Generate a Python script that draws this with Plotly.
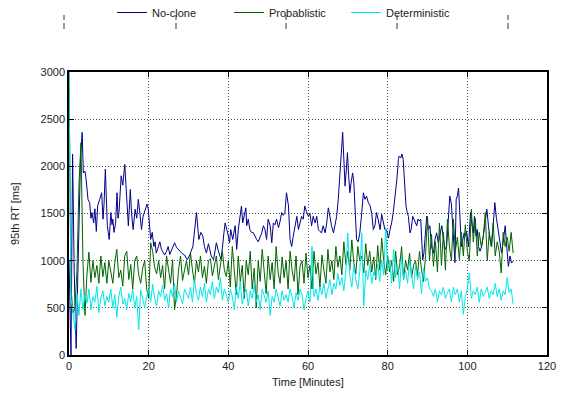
import plotly.graph_objects as go

# ---------------- data ----------------
# No-clone (irregular time samples)
noclone_t = [0.0,0.5,0.9,1.3,1.8,2.4,2.9,3.3,3.6,4.0,4.3,4.77,5.19,5.5,5.77,6.19,6.5,6.86,7.2,7.7,8.2,8.54,8.8,9.12,9.4,9.62,10.1,10.5,10.8,11.0,11.3,11.7,12.05,12.3,12.55,12.8,13.1,13.5,14.0,14.3,14.6,14.9,15.4,15.7,16.1,16.6,17.0,17.4,17.8,18.2,18.6,19.0,19.6,19.9,20.3,20.5,20.9,21.3,21.6,21.9,22.3,22.8,23.2,23.6,24.0,24.5,24.9,25.3,25.8,26.5,27.0,27.8,28.3,29.0,29.7,30.2,30.6,31.1,32.0,32.3,32.6,33.1,33.6,34.0,34.5,35.0,35.3,35.7,36.3,37.0,37.5,38.2,38.9,39.2,39.9,
             40.3,40.6,41.1,41.7,42.1,42.5,42.9,43.3,43.6,43.9,44.4,44.6,45.0,45.4,45.8,46.3,46.7,47.1,47.5,48.0,48.4,48.8,49.2,49.6,50.0,50.5,50.9,51.3,51.7,52.1,52.6,53.0,53.4,53.8,54.2,54.6,55.1,55.5,55.9,56.3,56.7,57.2,57.6,58.0,58.4,58.8,59.2,59.6,60.1,60.5,60.9,61.3,61.8,62.2,62.6,63.0,63.4,63.8,64.3,64.7,65.1,65.5,65.9,66.4,66.8,67.2,67.6,68.0,68.5,68.7,69.0,69.3,69.6,69.9,70.2,70.5,70.8,71.2,71.5,71.9,72.2,72.6,73.0,73.5,73.9,74.3,74.7,75.1,75.6,76.0,76.4,76.8,77.2,77.6,78.1,78.5,78.9,79.3,79.7,80.2,
             80.6,81.0,81.4,81.8,82.3,82.7,82.9,83.3,83.6,83.9,84.3,84.6,84.9,85.2,85.6,85.9,86.3,86.6,86.9,87.3,87.6,87.9,88.3,88.5,88.8,89.1,89.5,89.8,90.2,90.6,91.0,91.5,91.9,92.3,92.7,93.1,93.6,94.0,94.4,94.8,95.2,95.6,96.0,96.5,96.9,97.2,97.5,97.8,98.2,98.5,98.9,99.2,99.5,99.8,100.3,100.8,101.1,101.5,101.8,102.2,102.5,102.8,103.2,103.6,104.0,104.4,104.9,105.3,105.7,106.1,106.5,106.9,107.3,107.8,108.2,108.6,109.1,109.5,109.8,110.3,110.7,111.1,111.5]
noclone_v = [1000,0,2130,900,70,1200,2100,2360,1930,1950,1860,1650,1615,1450,1510,1400,1550,1310,1580,1650,1720,1440,1600,1970,1650,1370,1225,1510,1380,1440,1300,1400,1720,1450,1510,1650,1900,1800,2020,1800,1610,1370,1755,1500,1330,1545,1450,1650,1500,1330,1470,1520,1600,1550,1330,1225,1300,1150,1200,1080,1130,1200,1120,1080,1060,1100,1150,1065,1110,1190,1140,1100,1080,1060,1010,1050,1100,1150,1510,1350,1225,1300,1260,1150,1080,1180,1120,1050,1010,1190,1100,1010,1295,1400,1280,
             1190,1330,1225,1370,1120,1330,1440,1580,1400,1470,1560,1370,1440,1330,1300,1295,1250,1225,1200,1260,1295,1370,1330,1225,1440,1370,1190,1400,1380,1440,1350,1420,1510,1480,1510,1720,1580,1225,1150,1260,1370,1470,1330,1400,1470,1440,1580,1520,1470,1500,1370,1470,1400,1470,1330,1310,1295,1370,1295,1400,1560,1470,1370,1295,1370,1470,1650,1900,2145,2360,2075,1790,1950,2145,1900,1720,1820,1930,1830,1545,1225,1200,1290,1510,1720,1650,1685,1620,1580,1500,1330,1370,1510,1440,1330,1490,1400,1330,1330,1240,
             1330,1400,1510,1650,1860,2075,2110,2090,2130,2075,1790,1580,1510,1470,1295,1330,1470,1440,1400,1370,1440,1420,1440,1200,1010,1080,1295,1470,1330,1370,1150,1080,1230,1295,1190,1260,1370,1230,1120,1150,1370,1685,1600,1295,980,1650,1685,1770,1440,1150,1230,1295,1260,1310,1150,1510,1400,1295,1470,1260,1330,1150,1100,1150,1260,1400,1545,1370,1225,1150,1370,1615,1450,1295,1150,1080,1230,1370,1200,940,1050,975,995]

# Probablistic and Deterministic: sampled every 0.5 minute from t = 0
step_t = [i * 0.5 for i in range(224)]
prob_v = [3000,700,450,500,900,1800,2250,1000,420,850,
          1090,770,1000,820,950,760,1050,830,980,760,
          1000,880,760,980,1120,820,900,730,1050,1100,
          800,960,700,1000,1050,850,760,920,1000,700,
          600,1190,1100,930,860,1000,820,950,700,1050,
          890,760,1010,480,640,900,1050,790,900,1000,
          850,1080,900,760,1000,880,1050,820,940,760,
          1000,1020,840,930,1050,800,930,1100,900,830,
          1000,720,1150,850,640,1050,780,950,600,1000,
          850,1100,700,920,500,1000,780,1120,840,650,
          1050,800,980,700,1150,880,760,1040,820,1000,
          700,1100,900,780,1050,640,940,1000,760,1080,
          820,950,700,1100,860,980,720,1060,900,760,
          1120,880,1000,800,1150,930,1050,850,1200,960,
          1100,900,1220,980,860,1150,1000,1050,870,1180,
          950,1100,880,1040,800,1160,900,1240,1000,850,
          1050,880,1000,780,1100,850,950,1150,800,1000,
          900,1080,820,950,1000,840,1100,900,780,1050,
          1470,1000,1280,940,1200,880,1400,950,1300,900,
          1440,1150,1000,1440,1100,1250,1010,1300,1050,1380,
          1100,1000,1545,1200,1450,1050,1300,1150,1250,1510,
          1000,1300,1150,1400,1050,1200,1100,870,1300,1150,
          1250,1100,1300,1080]
det_v = [3000,600,450,270,650,420,700,480,640,550,
         700,480,620,560,730,450,600,680,520,620,
         560,700,500,640,400,620,720,540,600,480,
         650,560,700,500,620,270,690,590,500,620,
         700,560,750,600,520,680,620,740,580,650,
         500,700,620,760,560,680,620,540,700,640,
         600,720,560,800,650,580,720,620,760,560,
         700,640,780,600,720,660,820,580,700,640,
         560,700,620,480,720,600,780,540,650,700,
         520,680,600,750,560,640,480,700,620,560,
         680,420,620,560,700,600,520,680,580,640,
         560,700,620,500,660,580,700,640,480,600,
         680,560,1150,620,700,580,720,640,760,600,
         720,800,640,760,700,860,740,820,680,900,
         1290,840,720,950,800,700,880,1295,520,900,
         800,950,760,880,820,960,780,1000,850,1350,
         900,1000,760,1120,820,950,700,1050,800,900,
         760,1000,850,700,950,800,880,650,920,780,
         820,700,680,620,700,560,680,640,720,600,
         660,700,560,720,640,700,560,680,430,620,
         700,870,600,680,640,720,560,700,620,660,
         720,600,680,640,760,620,700,580,680,640,
         820,660,700,540]

series_names = ["No-clone", "Probablistic", "Deterministic"]
series_colors = ["#00008B", "#006400", "#00E8E8"]
x_ticks = [0, 20, 40, 60, 80, 100, 120]
y_ticks = [0, 500, 1000, 1500, 2000, 2500, 3000]
x_title = "Time [Minutes]"
y_title = "95th RT [ms]"

# ---------------- figure ----------------
W, H = 562, 393
ML, MR, MT, MB = 69, 15, 72, 38
FONT = "Liberation Sans, Arial, Helvetica, sans-serif"
pw, ph = W - ML - MR, H - MT - MB

fig = go.Figure()
for name, xs, ys, col in [
    (series_names[0], noclone_t, noclone_v, series_colors[0]),
    (series_names[1], step_t, prob_v, series_colors[1]),
    (series_names[2], step_t, det_v, series_colors[2]),
]:
    fig.add_trace(go.Scatter(x=xs, y=ys, mode="lines", name=name,
                             line=dict(color=col, width=1), cliponaxis=True))

axis_common = dict(showline=True, linecolor="black", linewidth=1.5, mirror="ticks",
                   ticks="inside", ticklen=5, tickcolor="black", tickwidth=1,
                   showgrid=True, gridcolor="#555555", griddash="1px,2px", gridwidth=1,
                   zeroline=False, automargin=False,
                   tickfont=dict(family=FONT, size=11, color="#222"))

fig.update_xaxes(range=[0, 120], tickvals=x_ticks, **axis_common)
fig.update_yaxes(range=[0, 3000], tickvals=y_ticks, **axis_common)

# axis titles placed as annotations in pixel-derived paper coords
annotations = [
    dict(text=x_title, xref="paper", yref="paper", x=(308 - ML) / pw, y=(H - MB - 382) / ph,
         xanchor="center", yanchor="middle", showarrow=False,
         font=dict(family=FONT, size=11, color="#222")),
    dict(text=y_title, xref="paper", yref="paper", x=(15 - ML) / pw, y=(H - MB - 214) / ph,
         xanchor="center", yanchor="middle", showarrow=False, textangle=-90,
         font=dict(family=FONT, size=11, color="#222")),
]

# small marks across the top of the page
shapes = []
for px in [64, 176, 286, 397, 508]:
    xp = (px - ML) / pw
    for (y0, y1) in [(15, 20), (23, 29)]:
        shapes.append(dict(type="line", xref="paper", yref="paper",
                           x0=xp, x1=xp, y0=(H - MB - y0) / ph, y1=(H - MB - y1) / ph,
                           line=dict(color="#333", width=1)))

fig.update_layout(
    width=W, height=H,
    margin=dict(l=ML, r=MR, t=MT, b=MB, autoexpand=False),
    paper_bgcolor="white", plot_bgcolor="white",
    font=dict(family=FONT, size=11, color="#222"),
    showlegend=True,
    legend=dict(orientation="h", x=(112 - ML) / pw, xanchor="left",
                y=(H - MB + 2) / ph, yanchor="top",
                entrywidth=72, entrywidthmode="pixels",
                font=dict(family=FONT, size=11, color="#222"),
                bgcolor="rgba(0,0,0,0)", itemwidth=30),
    shapes=shapes,
    annotations=annotations,
)

fig.write_html("out.html")
